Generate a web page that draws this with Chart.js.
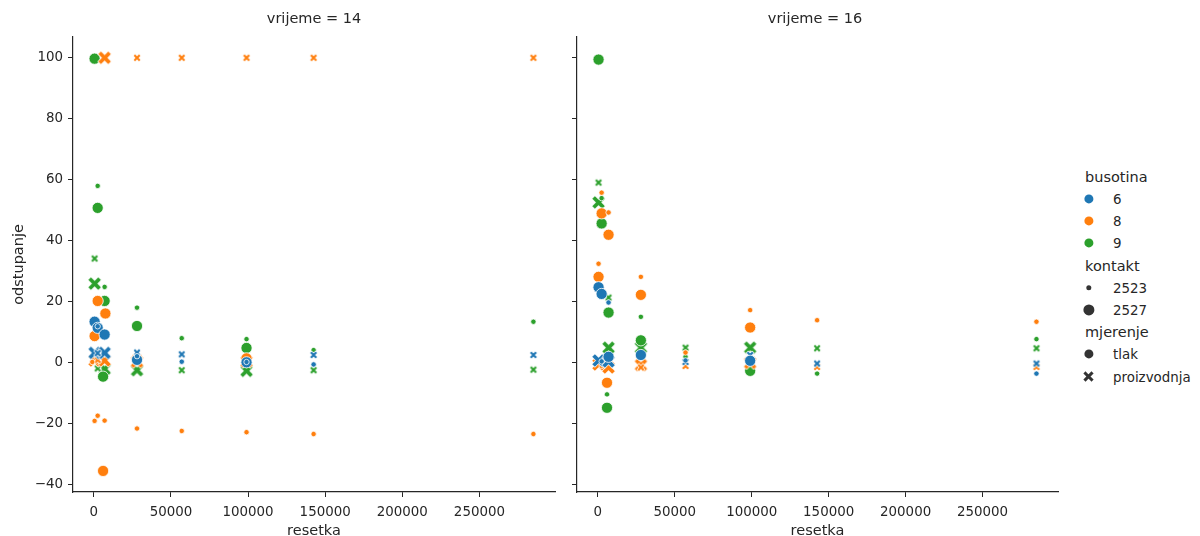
<!DOCTYPE html>
<html>
<head>
<meta charset="utf-8">
<script src="https://cdn.jsdelivr.net/npm/chart.js@4"></script>
<style>
    body { margin: 0; width: 1200px; height: 536px; background: #fff; overflow: hidden; position: relative;
           font-family: "DejaVu Sans", sans-serif; color: #262626; }
    canvas.graf { position: absolute; top: 0; }
    .naslov { position: absolute; top: 10px; font-size: 14.5px; transform: translateX(-50%); white-space: nowrap; }
    .leg { position: absolute; font-size: 13.4px; white-space: nowrap; transform: translateY(-50%); }
    .legNaslov { font-size: 14.5px; }
    .tocka { position: absolute; border-radius: 50%; transform: translate(-50%, -50%); }
</style>
</head>
<body>
<canvas id="graf14" class="graf" width="565" height="536" style="left:0"></canvas>
<canvas id="graf16" class="graf" width="500" height="536" style="left:565px"></canvas>
<div class="naslov" style="left:314px">vrijeme = 14</div>
<div class="naslov" style="left:815px">vrijeme = 16</div>

<script>
// Kategorije
const busotine = ['6', '8', '9'];
const boje = ['#1f77b4', '#ff7f0e', '#2ca02c'];
const kontakti = ['2523', '2527'];
const mjerenja = ['tlak', 'proizvodnja'];
const xOznake = [0, 50000, 100000, 150000, 200000, 250000];
const yOznake = [-40, -20, 0, 20, 40, 60, 80, 100];

// vrijeme = 14 : parovi [resetka, odstupanje]
const v14_b6_k2523_tlak = [[2500, 12.0], [28000, 2.2], [57000, 0.4], [99000, 0.3], [142500, -0.5]];
const v14_b6_k2527_tlak = [[500, 13.5], [2500, 11.5], [7000, 9.3], [28000, 1.0], [99000, 0.2]];
const v14_b6_k2523_proiz = [[2500, 3.2], [28000, 3.4], [57000, 2.8], [142500, 2.6], [285000, 2.6]];
const v14_b6_k2527_proiz = [[500, 3.3], [7000, 3.3]];

const v14_b8_k2523_tlak = [[500, -19.0], [2500, -17.3], [7000, -18.9], [28000, -21.5], [57000, -22.3],
                           [99000, -22.7], [142500, -23.3], [285000, -23.3], [-1000, 0.3]];
const v14_b8_k2527_tlak = [[2500, 20.3], [7500, 16.2], [500, 8.8], [6000, -35.4], [28000, 1.5], [99000, 1.5]];
const v14_b8_k2523_proiz = [[28000, 100], [57000, 100], [99000, 100], [142500, 100], [285000, 100], [2500, 1.0]];
const v14_b8_k2527_proiz = [[7000, 100], [500, 0.8], [7000, 0.8], [28000, 0.4], [99000, 0.5]];

const v14_b9_k2523_tlak = [[2500, 58.0], [7000, 24.9], [28000, 18.1], [57000, 8.1], [99000, 7.8], [142500, 4.2], [285000, 13.5]];
const v14_b9_k2527_tlak = [[500, 99.7], [2500, 50.8], [7000, 20.3], [28000, 12.1], [99000, 4.9], [6000, -4.5]];
const v14_b9_k2523_proiz = [[500, 34.2], [2500, -1.8], [57000, -2.4], [142500, -2.4], [285000, -2.2]];
const v14_b9_k2527_proiz = [[500, 26.0], [7000, -2.0], [28000, -2.4], [99000, -2.6]];

// vrijeme = 16
const v16_b6_k2523_tlak = [[7000, 19.8], [57000, 0.8], [285000, -3.5], [2500, 0.5]];
const v16_b6_k2527_tlak = [[500, 24.8], [2500, 22.6], [7000, 2.0], [28000, 2.6], [99000, 0.7]];
const v16_b6_k2523_proiz = [[99000, 2.6], [142500, -0.2], [285000, -0.2], [57000, 0.3]];
const v16_b6_k2527_proiz = [[500, 0.8], [7000, 0.5]];

const v16_b8_k2523_tlak = [[2500, 55.8], [7000, 49.3], [500, 32.5], [28000, 28.2], [57000, 3.4],
                           [99000, 17.3], [142500, 14.0], [285000, 13.5], [2500, -1.0]];
const v16_b8_k2527_tlak = [[2500, 49.0], [7000, 42.0], [500, 28.2], [28000, 22.3], [99000, 11.6], [6000, -6.5]];
const v16_b8_k2523_proiz = [[57000, -1.0], [142500, -1.3], [285000, -1.3], [28000, -1.5]];
const v16_b8_k2527_proiz = [[500, -0.5], [7000, -1.5], [28000, -0.7], [99000, 0.0]];

const v16_b9_k2523_tlak = [[2500, 54.0], [6000, -10.3], [28000, 15.1], [57000, 2.0], [142500, -3.5], [285000, 7.8]];
const v16_b9_k2527_tlak = [[500, 99.4], [2500, 45.7], [7000, 16.5], [6000, -14.7], [28000, 7.4], [99000, -2.6]];
const v16_b9_k2523_proiz = [[500, 59.1], [7000, 21.4], [57000, 5.0], [142500, 4.8], [285000, 4.8]];
const v16_b9_k2527_proiz = [[500, 52.6], [7000, 5.0], [28000, 5.0], [99000, 5.0]];

const serije14 = {
    '6': [v14_b6_k2523_tlak, v14_b6_k2527_tlak, v14_b6_k2523_proiz, v14_b6_k2527_proiz],
    '8': [v14_b8_k2523_tlak, v14_b8_k2527_tlak, v14_b8_k2523_proiz, v14_b8_k2527_proiz],
    '9': [v14_b9_k2523_tlak, v14_b9_k2527_tlak, v14_b9_k2523_proiz, v14_b9_k2527_proiz]
};
const serije16 = {
    '6': [v16_b6_k2523_tlak, v16_b6_k2527_tlak, v16_b6_k2523_proiz, v16_b6_k2527_proiz],
    '8': [v16_b8_k2523_tlak, v16_b8_k2527_tlak, v16_b8_k2523_proiz, v16_b8_k2527_proiz],
    '9': [v16_b9_k2523_tlak, v16_b9_k2527_tlak, v16_b9_k2523_proiz, v16_b9_k2527_proiz]
};

const FONT = '"DejaVu Sans", sans-serif';
const TAMNA = '#262626';
const RADIJUS = { '2523': 2.7, '2527': 5.6 };
const VELICINA_X = { '2523': 6, '2527': 11 };

// Ispunjeni X marker (kao u seabornu) s bijelim rubom
function markerX(boja, velicina) {
    const c = document.createElement('canvas');
    const s = Math.ceil(velicina + 4);
    c.width = s; c.height = s;
    const g = c.getContext('2d');
    const h = velicina / 2, w = velicina * 0.34;
    g.translate(s / 2, s / 2);
    [['#ffffff', w + 1.4], [boja, w]].forEach(([b, lw]) => {
        g.strokeStyle = b; g.lineWidth = lw; g.lineCap = 'square';
        g.beginPath();
        g.moveTo(-h + w / 2, -h + w / 2); g.lineTo(h - w / 2, h - w / 2);
        g.moveTo(h - w / 2, -h + w / 2); g.lineTo(-h + w / 2, h - w / 2);
        g.stroke();
    });
    return c;
}

function skupoviPodataka(serije) {
    const skupovi = [];
    busotine.forEach((b, i) => {
        const [t23, t27, p23, p27] = serije[b];
        const kombinacije = [[t23, '2523', 'tlak'], [t27, '2527', 'tlak'], [p23, '2523', 'proizvodnja'], [p27, '2527', 'proizvodnja']];
        kombinacije.forEach(([parovi, k, m]) => {
            const jeX = m === 'proizvodnja';
            skupovi.push({
                label: b + ' ' + k + ' ' + m,
                data: parovi.map(([x, y]) => ({ x: x, y: y })),
                backgroundColor: boje[i],
                borderColor: '#ffffff',
                borderWidth: jeX ? 0 : 0.8,
                pointStyle: jeX ? markerX(boje[i], VELICINA_X[k]) : 'circle',
                pointRadius: RADIJUS[k],
                clip: false
            });
        });
    });
    return skupovi;
}

function napraviGraf(id, serije, lijevi) {
    new Chart(document.getElementById(id), {
        type: 'scatter',
        data: { datasets: skupoviPodataka(serije) },
        options: {
            responsive: false,
            animation: false,
            layout: { padding: { top: 37, right: lijevi ? 10 : 7, left: 0, bottom: 0 } },
            plugins: { legend: { display: false }, tooltip: { enabled: false } },
            scales: {
                x: {
                    type: 'linear', min: -13500, max: 299000,
                    afterBuildTicks: s => { s.ticks = xOznake.map(v => ({ value: v })); },
                    ticks: { callback: v => String(v), color: TAMNA, font: { size: 13.4, family: FONT }, padding: 7, maxRotation: 0, autoSkip: false },
                    grid: { drawOnChartArea: false, tickLength: 5, color: TAMNA },
                    border: { color: TAMNA, width: 1.2 },
                    title: { display: true, text: 'resetka', color: TAMNA, font: { size: 14.5, family: FONT }, padding: { top: 4, bottom: -4 } },
                    afterFit: s => { s.height = 44; }
                },
                y: {
                    type: 'linear', min: -42.3, max: 106.8,
                    afterBuildTicks: s => { s.ticks = yOznake.map(v => ({ value: v })); },
                    ticks: {
                        display: true,
                        callback: v => lijevi ? String(v).replace('-', '\u2212') : '',
                        color: TAMNA, font: { size: 13.4, family: FONT }, padding: 5
                    },
                    grid: { drawOnChartArea: false, tickLength: 5, color: TAMNA },
                    border: { color: TAMNA, width: 1.2 },
                    title: { display: lijevi, text: 'odstupanje', color: TAMNA, font: { size: 14.5, family: FONT }, padding: { top: 11, bottom: 0 } },
                    afterFit: s => { s.width = lijevi ? 73 : 12; }
                }
            }
        }
    });
}

napraviGraf('graf14', serije14, true);
napraviGraf('graf16', serije16, false);

// Legenda
function legenda() {
    const redovi = [];
    redovi.push({ naslov: 'busotina' });
    busotine.forEach((b, i) => redovi.push({ tekst: b, boja: boje[i], r: 4.6 }));
    redovi.push({ naslov: 'kontakt' });
    kontakti.forEach(k => redovi.push({ tekst: k, boja: '#333333', r: RADIJUS[k] }));
    redovi.push({ naslov: 'mjerenje' });
    redovi.push({ tekst: mjerenja[0], boja: '#333333', r: 4.6 });
    redovi.push({ tekst: mjerenja[1], boja: '#333333', x: true });
    redovi.forEach((red, n) => {
        const y = 176.7 + n * 22.2;
        if (red.naslov) {
            const d = document.createElement('div');
            d.className = 'leg legNaslov';
            d.style.left = '1085px'; d.style.top = y + 'px';
            d.textContent = red.naslov;
            document.body.appendChild(d);
            return;
        }
        if (red.x) {
            const c = markerX(red.boja, 9);
            c.style.position = 'absolute';
            c.style.left = (1088.5 - c.width / 2) + 'px';
            c.style.top = (y - c.height / 2) + 'px';
            document.body.appendChild(c);
        } else {
            const t = document.createElement('div');
            t.className = 'tocka';
            t.style.left = '1088.5px'; t.style.top = y + 'px';
            t.style.width = (red.r * 2) + 'px'; t.style.height = (red.r * 2) + 'px';
            t.style.background = red.boja;
            document.body.appendChild(t);
        }
        const d = document.createElement('div');
        d.className = 'leg';
        d.style.left = '1113px'; d.style.top = y + 'px';
        d.textContent = red.tekst;
        document.body.appendChild(d);
    });
}
legenda();
</script>
</body>
</html>
